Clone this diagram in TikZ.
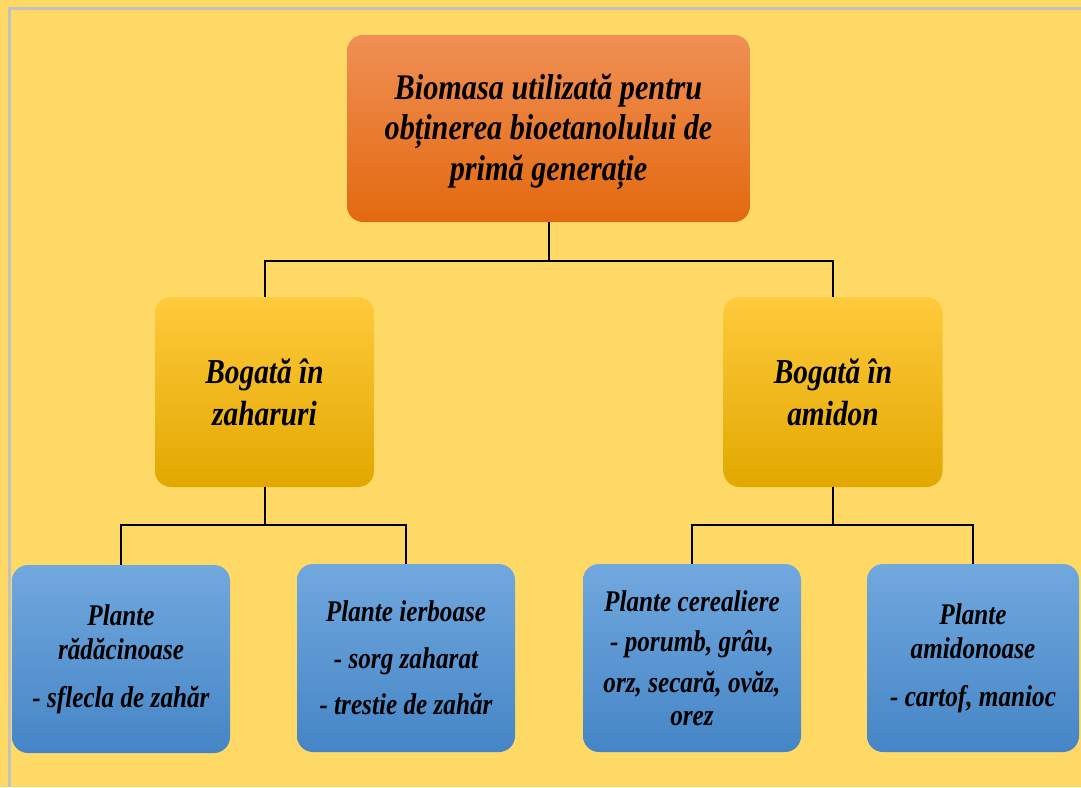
\documentclass[tikz,border=0pt]{standalone}
\usepackage{fontspec}
\setmainfont{Liberation Serif}[FakeStretch=0.84]
\definecolor{bgyellow}{HTML}{FED966}
\definecolor{framegray}{HTML}{C2C2BE}
\definecolor{orangetop}{HTML}{F08F55}
\definecolor{orangebot}{HTML}{E3690F}
\definecolor{goldtop}{HTML}{FFCA3C}
\definecolor{goldmid}{HTML}{FFC200}
\definecolor{goldbot}{HTML}{E2A800}
\definecolor{bluetop}{HTML}{71A8DE}
\definecolor{bluemid}{HTML}{5B9BD8}
\definecolor{bluebot}{HTML}{4585C6}
\tikzset{
  box/.style={rounded corners=16pt, align=center, inner sep=0pt,
    font=\bfseries\itshape},
  rootbox/.style={box, minimum width=403pt, minimum height=187pt,
    top color=orangetop, bottom color=orangebot},
  roottext/.style={align=center, inner sep=0pt, yshift=-3pt,
    font=\bfseries\itshape\fontsize{36}{40.5}\selectfont},
  groupbox/.style={box, minimum width=219pt, minimum height=190pt,
    top color=goldtop, middle color=goldmid, bottom color=goldbot,
    font=\bfseries\itshape\fontsize{35}{42}\selectfont},
  leafbox/.style={box, minimum width=218pt, minimum height=188pt,
    top color=bluetop, middle color=bluemid, bottom color=bluebot,
    font=\bfseries\itshape\fontsize{30}{34.5}\selectfont},
  link/.style={draw=black, line width=2pt}
}
\begin{document}
\begin{tikzpicture}[x=1pt,y=-1pt]
  \useasboundingbox (0,0) rectangle (1081,787);
  \fill[bgyellow] (0,0) rectangle (1081,787);
  % frame, cut off at the right and bottom edges
  \draw[framegray, line width=3pt] (9.5,787) -- (9.5,8.5) -- (1081,8.5);

  \node[rootbox,
        label={[roottext, name=roottitle]center:Biomasa utilizată pentru\\obținerea bioetanolului de\\primă generație}]
    (root) at (548.5,128.5) {};

  \node[groupbox] (sugar) at (264.5,392) {Bogată în\\zaharuri};
  \node[groupbox] (starch) at (833,392) {Bogată în\\amidon};

  \node[leafbox] (roots) at (121,659)
    {Plante\\rădăcinoase\\[13pt]- sflecla de zahăr};
  \node[leafbox] (grass) at (406,658)
    {Plante ierboase\\[12pt]- sorg zaharat\\[12pt]- trestie de zahăr};
  \node[leafbox] (cereal) at (692,658)
    {Plante cerealiere\\[6pt]- porumb, grâu,\\[6pt]orz, secară, ovăz,\\[-1pt]orez};
  \node[leafbox, minimum width=212pt] (tuber) at (973,658)
    {Plante\\amidonoase\\[13pt]- cartof, manioc};

  % connectors
  \draw[link] (root.south) -- ++(0,39) coordinate (j0);
  \draw[link] (j0) -| (sugar.north);
  \draw[link] (j0) -| (starch.north);

  \draw[link] (sugar.south) -- ++(0,38) coordinate (j1);
  \draw[link] (j1) -| (roots.north);
  \draw[link] (j1) -| (grass.north);

  \draw[link] (starch.south) -- ++(0,38) coordinate (j2);
  \draw[link] (j2) -| (cereal.north);
  \draw[link] (j2) -| (tuber.north);
\end{tikzpicture}
\end{document}
